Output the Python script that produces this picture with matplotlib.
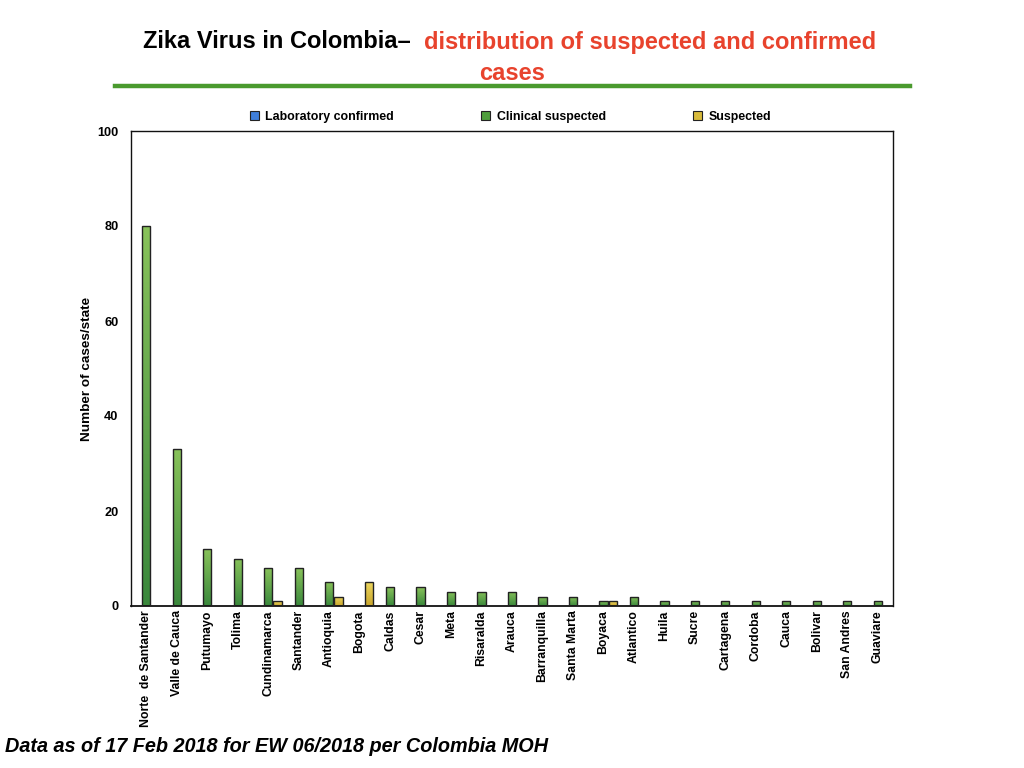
import matplotlib
matplotlib.use("Agg")
import matplotlib.pyplot as plt
import numpy as np
from matplotlib.patches import Patch
from matplotlib.colors import LinearSegmentedColormap
from matplotlib.lines import Line2D

plt.rcParams['font.family'] = ['Liberation Sans', 'DejaVu Sans']

states = ["Norte  de Santander", "Valle de Cauca", "Putumayo", "Tolima", "Cundinamarca",
          "Santander", "Antioquia", "Bogota", "Caldas", "Cesar", "Meta", "Risaralda",
          "Arauca", "Barranquilla", "Santa Marta", "Boyaca", "Atlantico", "Huila", "Sucre",
          "Cartagena", "Cordoba", "Cauca", "Bolivar", "San Andres", "Guaviare"]
lab_confirmed = [0] * 25
clinical_suspected = [80, 33, 12, 10, 8, 8, 5, 0, 4, 4, 3, 3, 3, 2, 2, 1, 2, 1, 1, 1, 1, 1, 1, 1, 1]
suspected = [0, 0, 0, 0, 1, 0, 2, 5, 0, 0, 0, 0, 0, 0, 0, 1, 0, 0, 0, 0, 0, 0, 0, 0, 0]
series_names = ["Laboratory confirmed", "Clinical suspected", "Suspected"]
yticks = [0, 20, 40, 60, 80, 100]

fig = plt.figure(figsize=(10.24, 7.68), dpi=100)
ax = fig.add_axes([131/1024, 1-606/768, 762/1024, 475/768])

x = np.arange(len(states))
w = 0.27
offsets = [-0.31, 0.0, 0.31]
grads = [("#6fa3ef", "#2f6cc9"), ("#88c25a", "#3a883c"), ("#ecd65e", "#c8a52c")]
solid = ["#3f7fdb", "#4f9e3c", "#d8bb3c"]

for vals, off, (ctop, cbot) in zip([lab_confirmed, clinical_suspected, suspected], offsets, grads):
    bars = ax.bar(x + off, vals, width=w, facecolor="none", edgecolor="#222222",
                  linewidth=1.0, zorder=3)
    cmap = LinearSegmentedColormap.from_list("g", [cbot, ctop])
    for b, v in zip(bars, vals):
        if v <= 0:
            b.set_linewidth(0)
            continue
        x0 = b.get_x()
        im = ax.imshow(np.linspace(0, 1, 64).reshape(-1, 1), cmap=cmap, origin="lower",
                       extent=(x0, x0 + b.get_width(), 0, v), aspect="auto",
                       interpolation="bilinear", zorder=2)
        im.set_clip_path(b)

ax.set_xlim(-0.5, len(states) - 0.5)
ax.set_ylim(0, 100)
ax.set_yticks(yticks)
ax.set_yticklabels([str(t) for t in yticks], fontsize=9.2, fontweight="bold")
ax.set_xticks(x)
ax.set_xticklabels(states, rotation=90, fontsize=8.8, fontweight="bold")
ax.tick_params(length=0)
ax.tick_params(axis="x", pad=3)
ax.tick_params(axis="y", pad=9)
for s in ax.spines.values():
    s.set_linewidth(1.0)
    s.set_color("#111111")
ax.spines["bottom"].set_linewidth(1.3)
ax.set_ylabel("Number of cases/state", fontsize=9.7, fontweight="bold", labelpad=3)

handles = [Patch(facecolor=c, edgecolor="#222222", linewidth=0.8) for c in solid]
fig.legend(handles, series_names, loc="center left", bbox_to_anchor=(250/1024, 1-117/768),
           ncol=3, frameon=False, prop={"weight": "bold", "size": 8.9},
           handlelength=0.7, handleheight=0.7, handletextpad=0.55, columnspacing=7.05,
           borderaxespad=0, borderpad=0)

fig.text(143/1024, 1-42/768, "Zika Virus in Colombia\u2013", fontsize=17, fontweight="bold",
         color="black", ha="left", va="center")
fig.text(424/1024, 1-42/768, "distribution of suspected and confirmed", fontsize=17,
         fontweight="bold", color="#e8432d", ha="left", va="center")
fig.text(512/1024, 1-73/768, "cases", fontsize=17, fontweight="bold", color="#e8432d",
         ha="center", va="center")
fig.add_artist(Line2D([115/1024, 910/1024], [1-86/768, 1-86/768], color="#4a9a2e",
                      linewidth=3.2, transform=fig.transFigure))

fig.text(5/1024, 1-746/768, "Data as of 17 Feb 2018 for EW 06/2018 per Colombia MOH",
         fontsize=14.3, fontweight="bold", fontstyle="italic", ha="left", va="center")

fig.savefig("out.png", dpi=100)
